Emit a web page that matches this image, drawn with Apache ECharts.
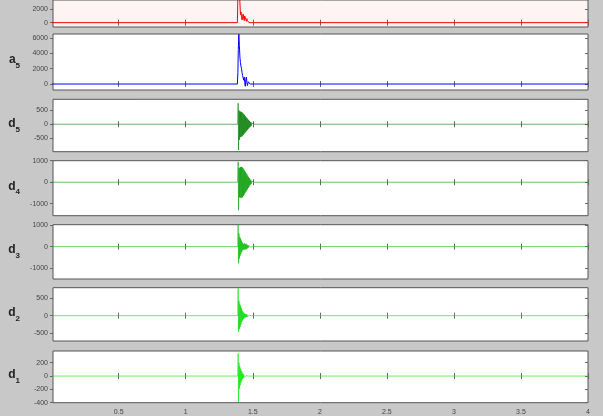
<!DOCTYPE html>
<html><head><meta charset="utf-8">
<script src="https://cdn.jsdelivr.net/npm/echarts@6/dist/echarts.min.js"></script>
<style>html,body{margin:0;padding:0;background:#c8c8c8}#c{width:603px;height:416px}</style>
</head><body><div id="c"></div><script>
// ---- data ----
const xTicks=[0.5,1,1.5,2,2.5,3,3.5,4];
const xTickLabels=['0.5','1','1.5','2','2.5','3','3.5','4'];
const panelLabels=[['',''],['a','5'],['d','5'],['d','4'],['d','3'],['d','2'],['d','1']];
const yTicks=[[0,2000],[0,2000,4000,6000],[-500,0,500],[-1000,0,1000],[-1000,0,1000],[-500,0,500],[-400,-200,0,200]];
const tStart=0, tEnd=4;
const tSig=[1.385,1.389,1.392,1.396,1.400,1.404,1.408,1.412,1.416,1.420,1.424,1.428,1.432,1.436,1.440,1.444,1.448,1.452,1.456,1.460,1.466,1.472,1.480,1.490];
const sigValues=[0,4000,8000,7000,5000,3000,1200,1600,1000,400,900,1300,700,300,1000,1200,500,200,600,300,100,0,0,0];
const a5Values=[0,1500,4500,6500,5000,3500,2800,2300,2000,1500,1100,800,500,900,200,-300,600,900,200,-200,300,100,0,0];
const tBurst=[1.388,1.391,1.394,1.397,1.400,1.403,1.406,1.409,1.412,1.415,1.418,1.421,1.424,1.427,1.430,1.433,1.436,1.439,1.442,1.445,1.448,1.451,1.454,1.457,1.460,1.463,1.466,1.469,1.472,1.475,1.478,1.481,1.484,1.487,1.490,1.493,1.496,1.499,1.502,1.505,1.508];
const d5Values=[0,750,-920,500,-560,460,-470,450,-450,440,-440,420,-410,390,-380,360,-340,330,-310,290,-270,250,-240,220,-200,185,-170,150,-135,120,-105,90,-75,65,-50,40,-30,20,-12,6,0];
const d4Values=[0,950,-1300,650,-700,680,-720,700,-720,710,-720,700,-700,660,-640,600,-580,540,-510,480,-450,420,-390,360,-330,300,-270,240,-210,180,-150,125,-100,80,-60,45,-30,20,-12,6,0];
const d3Values=[0,1000,-770,600,-550,450,-420,380,-330,280,-240,200,-170,150,-130,120,-140,150,-120,100,-130,140,-110,90,-80,70,-60,50,-40,35,-28,22,-16,12,-8,6,-4,3,-2,1,0];
const d2Values=[0,770,-450,420,-380,340,-320,280,-250,210,-180,150,-130,110,-95,80,-70,60,-55,50,-45,40,-36,32,-28,25,-22,19,-16,14,-12,10,-8,6,-5,4,-3,2,-1,1,0];
const d1Values=[0,340,-390,200,-190,150,-140,110,-100,80,-70,55,-45,35,-28,22,-17,13,-10,8,-6,5,-4,3,-2,2,-1,1,0,0,0,0,0,0,0,0,0,0,0,0,0];

// ---- layout / style ----
const panels=[
 {top:0,h:27,min:-650,max:3390,t:tSig,v:sigValues,color:'#ff0000',bg:'#fff4f4',w:1},
 {top:34,h:56,min:-780,max:6520,t:tSig,v:a5Values,color:'#0000ff',bg:'#ffffff',w:1},
 {top:99.3,h:52.4,min:-980,max:890,t:tBurst,v:d5Values,color:'#007a00',bg:'#ffffff',w:0.6},
 {top:160.7,h:55,min:-1557,max:1000,t:tBurst,v:d4Values,color:'#009a00',bg:'#ffffff',w:0.6},
 {top:224.7,h:54.3,min:-1490,max:1010,t:tBurst,v:d3Values,color:'#00bb00',bg:'#ffffff',w:0.6},
 {top:287.7,h:53.3,min:-711,max:786,t:tBurst,v:d2Values,color:'#00d800',bg:'#ffffff',w:0.6},
 {top:351,h:51.7,min:-400,max:376,t:tBurst,v:d1Values,color:'#00e600',bg:'#ffffff',w:0.6}
];
const FF='Liberation Sans';
const tickLab={fontSize:7,color:'#444',fontFamily:FF};
const grid=[],xAxis=[],yAxis=[],series=[];
panels.forEach((p,i)=>{
  grid.push({left:53,width:535,top:p.top,height:p.h,show:true,backgroundColor:p.bg,borderColor:'#555',borderWidth:1});
  const last=i===panels.length-1;
  xAxis.push({type:'value',gridIndex:i,min:0.01,max:4,position:'bottom',
    axisLine:{show:false},splitLine:{show:false},
    axisTick:{show:true,inside:true,length:3,customValues:xTicks,lineStyle:{color:'#666'}},
    axisLabel:{show:last,margin:6,customValues:xTicks,formatter:v=>xTickLabels[xTicks.indexOf(v)]||'',...tickLab}});
  xAxis.push({type:'value',gridIndex:i,min:0.01,max:4,position:'top',
    axisLine:{show:false},splitLine:{show:false},
    axisTick:{show:true,inside:true,length:3,customValues:xTicks,lineStyle:{color:'#666'}},
    axisLabel:{show:false}});
  const lab=panelLabels[i];
  yAxis.push({type:'value',gridIndex:i,min:p.min,max:p.max,position:'left',
    name:lab[0]?('{m|'+lab[0]+'}{s|'+lab[1]+'}'):'',nameLocation:'middle',nameRotate:0,nameGap:33,
    nameTextStyle:{rich:{m:{fontSize:12,fontWeight:'bold',color:'#222',fontFamily:FF,verticalAlign:'top'},
                         s:{fontSize:8,fontWeight:'bold',color:'#222',fontFamily:FF,padding:[8,0,0,0],verticalAlign:'bottom'}}},
    axisLine:{show:false},splitLine:{show:false},
    axisTick:{show:true,inside:false,length:3,customValues:yTicks[i],lineStyle:{color:'#666'}},
    axisLabel:{show:true,margin:5,customValues:yTicks[i],formatter:v=>String(v),...tickLab}});
  yAxis.push({type:'value',gridIndex:i,min:p.min,max:p.max,position:'right',
    axisLine:{show:false},splitLine:{show:false},
    axisTick:{show:true,inside:true,length:3,customValues:yTicks[i],lineStyle:{color:'#666'}},
    axisLabel:{show:false}});
  const data=[[tStart,0]].concat(p.t.map((t,k)=>[t,p.v[k]])).concat([[tEnd,0]]);
  series.push({type:'line',xAxisIndex:2*i,yAxisIndex:2*i,data:data,showSymbol:false,symbol:'none',
    lineStyle:{color:p.color,width:p.w},clip:true,silent:true,animation:false});
});
const chart=echarts.init(document.getElementById('c'),null,{renderer:'canvas'});
chart.setOption({backgroundColor:'#c8c8c8',animation:false,grid,xAxis,yAxis,series});
</script></body></html>
